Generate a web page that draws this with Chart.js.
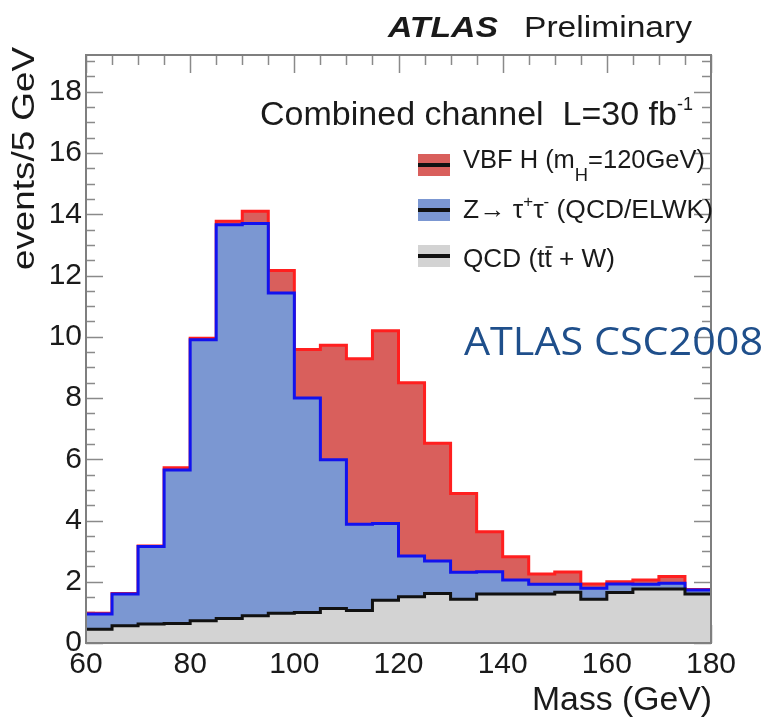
<!DOCTYPE html>
<html><head><meta charset="utf-8">
<script src="https://cdn.jsdelivr.net/npm/chart.js@4"></script>
<style>html,body{margin:0;padding:0;background:#fff;}#wrap{width:767px;height:723px;position:relative;}</style>
</head><body><div id="wrap"><canvas id="c" width="767" height="723"></canvas></div>
<script>
// Bin lower edges (GeV), 5 GeV bins, last bin ends at 180
const binEdges = [60,65,70,75,80,85,90,95,100,105,110,115,120,125,130,135,140,145,150,155,160,165,170,175];
const xEnd = 180;
// QCD (tt + W) background, events/5 GeV
const qcd = [0.45,0.56,0.62,0.64,0.73,0.80,0.89,0.97,1.00,1.13,1.06,1.40,1.51,1.62,1.43,1.60,1.60,1.60,1.66,1.43,1.65,1.76,1.76,1.60];
// Z -> tau tau (QCD/ELWK), stacked on QCD
const ztautau = [0.50,1.04,2.53,5.01,9.17,12.86,12.81,10.46,7.00,4.85,2.82,2.50,1.33,1.06,0.88,0.73,0.46,0.32,0.26,0.36,0.28,0.16,0.19,0.13];
// VBF H (mH = 120 GeV), stacked on top
const vbfH = [0.02,0.02,0.02,0.07,0.05,0.11,0.40,0.73,1.58,3.74,5.40,6.30,5.66,3.84,2.57,1.30,0.76,0.33,0.40,0.14,0.07,0.14,0.22,0.02];
const xTicks = [60,80,100,120,140,160,180];
const yTicks = [0,2,4,6,8,10,12,14,16,18];
const yMax = 19.2;

const FONT = "'Liberation Sans', Arial, sans-serif";
const COL = {
  hFill:'#d95f5c', hLine:'#ff1f1f',
  zFill:'#7b97d2', zLine:'#1212ee',
  qFill:'#d3d3d3', qLine:'#111111'
};

function toPoints(vals){
  const pts = binEdges.map((e,i)=>({x:e, y:vals[i]}));
  pts.push({x:xEnd, y:vals[vals.length-1]});
  return pts;
}

function drawRuns(ctx, runs, x, y, targetW, align){
  ctx.save();
  let w = 0;
  runs.forEach(r=>{ctx.font = r.font; r.w = ctx.measureText(r.t).width; w += r.w;});
  const sx = targetW ? targetW / w : 1;
  const startX = align === 'right' ? x - w*sx : x;
  ctx.translate(startX, y);
  ctx.scale(sx, 1);
  let cx = 0;
  runs.forEach(r=>{
    ctx.font = r.font;
    ctx.fillStyle = r.color || '#1a1a1a';
    ctx.textBaseline = 'alphabetic';
    ctx.textAlign = 'left';
    ctx.fillText(r.t, cx, r.dy || 0);
    if (r.bar){
      ctx.strokeStyle = r.color || '#1a1a1a';
      ctx.lineWidth = 1.6;
      ctx.beginPath();
      ctx.moveTo(cx+1, -r.barY); ctx.lineTo(cx + r.w + 1, -r.barY); ctx.stroke();
    }
    cx += r.w;
  });
  ctx.restore();
}

const framePlugin = {
  id:'frame',
  beforeDatasetsDraw(chart){
    const {ctx, chartArea:a, scales:{x, y}} = chart;
    ctx.save();
    ctx.strokeStyle = '#8a8a8a';
    ctx.lineWidth = 1.5;
    ctx.beginPath();
    for (let v = 0; v <= yMax + 1e-6; v += 0.5){
      const major = Math.abs(v/2 - Math.round(v/2)) < 1e-6;
      const L = major ? 17 : 9;
      const py = Math.round(y.getPixelForValue(v)) + 0.5;
      ctx.moveTo(a.left, py); ctx.lineTo(a.left + L, py);
      ctx.moveTo(a.right, py); ctx.lineTo(a.right - L, py);
    }
    for (let v = 60; v <= 180; v += 5){
      const major = (v - 60) % 20 === 0;
      const L = major ? 18 : 10;
      const px = Math.round(x.getPixelForValue(v)) + 0.5;
      ctx.moveTo(px, a.top); ctx.lineTo(px, a.top + L);
      ctx.moveTo(px, a.bottom); ctx.lineTo(px, a.bottom - L);
    }
    ctx.stroke();
    ctx.restore();
  },
  afterDatasetsDraw(chart){
    const {ctx, chartArea:a} = chart;
    ctx.save();
    ctx.strokeStyle = '#7f7f7f';
    ctx.lineWidth = 2;
    ctx.strokeRect(a.left, a.top, a.right - a.left, a.bottom - a.top);
    ctx.restore();
  },
  afterDraw(chart){
    const ctx = chart.ctx;
    const ds = chart.data.datasets;
    // Header
    drawRuns(ctx, [{t:'ATLAS', font:`italic bold 30px ${FONT}`}], 388, 37, 110);
    drawRuns(ctx, [{t:'Preliminary', font:`30px ${FONT}`}], 524, 37, 168);
    // Combined channel
    drawRuns(ctx, [
      {t:'Combined channel  L=30 fb', font:`34px ${FONT}`},
      {t:'-1', font:`18px ${FONT}`, dy:-15}
    ], 260, 125, 433);
    // Legend
    const legend = [
      {ds:ds[2], y:154, base:168, w:242, runs:[
        {t:'VBF H (m', font:`25px ${FONT}`},
        {t:'H', font:`18px ${FONT}`, dy:13},
        {t:'=120GeV)', font:`25px ${FONT}`}]},
      {ds:ds[1], y:199, base:218, w:250, runs:[
        {t:'Z\u2192 \u03c4', font:`25px ${FONT}`},
        {t:'+', font:`16px ${FONT}`, dy:-11},
        {t:'\u03c4', font:`25px ${FONT}`},
        {t:'-', font:`16px ${FONT}`, dy:-11},
        {t:' (QCD/ELWK)', font:`25px ${FONT}`}]},
      {ds:ds[0], y:245, base:267, w:152, runs:[
        {t:'QCD (t', font:`25px ${FONT}`},
        {t:'t', font:`25px ${FONT}`, bar:true, barY:20},
        {t:' + W)', font:`25px ${FONT}`}]}
    ];
    legend.forEach(it=>{
      ctx.save();
      ctx.fillStyle = it.ds.backgroundColor;
      ctx.fillRect(418, it.y, 32, 22);
      ctx.fillStyle = '#111';
      ctx.fillRect(418, it.y + 9, 32, 4);
      ctx.restore();
      drawRuns(ctx, it.runs, 463, it.base, it.w);
    });
    // Axis titles
    drawRuns(ctx, [{t:'Mass (GeV)', font:`33px ${FONT}`}], 712, 710, 180, 'right');
    ctx.save();
    ctx.translate(34, 270);
    ctx.rotate(-Math.PI/2);
    drawRuns(ctx, [{t:'events/5 GeV', font:`32px ${FONT}`}], 0, 0, 223);
    ctx.restore();
    // Overlay label
    drawRuns(ctx, [{t:'ATLAS CSC2008', font:`38px 'Open Sans', ${FONT}`, color:'#1f4f8b'}], 464, 355, 299);
  }
};

new Chart(document.getElementById('c'), {
  type:'line',
  data:{
    datasets:[
      {label:'QCD (tt + W)', data:toPoints(qcd), stepped:'before', fill:'origin',
       backgroundColor:COL.qFill, borderColor:COL.qLine, borderWidth:3, pointRadius:0},
      {label:'Z\u2192\u03c4\u03c4 (QCD/ELWK)', data:toPoints(ztautau), stepped:'before', fill:'origin',
       backgroundColor:COL.zFill, borderColor:COL.zLine, borderWidth:3, pointRadius:0},
      {label:'VBF H (mH=120GeV)', data:toPoints(vbfH), stepped:'before', fill:'origin',
       backgroundColor:COL.hFill, borderColor:COL.hLine, borderWidth:3, pointRadius:0}
    ]
  },
  options:{
    responsive:false,
    animation:false,
    devicePixelRatio:1,
    layout:{padding:{top:55, right:56, bottom:0, left:0}},
    plugins:{legend:{display:false}, tooltip:{enabled:false}},
    scales:{
      x:{type:'linear', min:60, max:180,
        afterFit(s){ s.height = 80; },
        afterBuildTicks(s){ s.ticks = xTicks.map(v=>({value:v})); },
        ticks:{font:{family:FONT, size:30}, color:'#1a1a1a', padding:4, maxRotation:0, autoSkip:false},
        grid:{display:false, drawTicks:false}, border:{display:false}},
      y:{type:'linear', stacked:true, min:0, max:yMax,
        afterFit(s){ s.width = 86; },
        afterBuildTicks(s){ s.ticks = yTicks.map(v=>({value:v})); },
        ticks:{font:{family:FONT, size:30}, color:'#1a1a1a', padding:4, autoSkip:false},
        grid:{display:false, drawTicks:false}, border:{display:false}}
    }
  },
  plugins:[framePlugin]
});
</script>
</body></html>
